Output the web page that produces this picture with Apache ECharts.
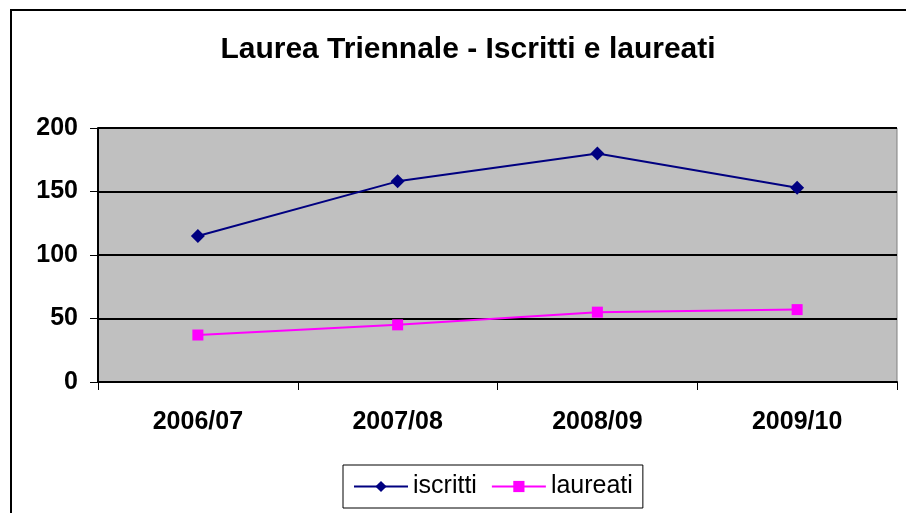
<!DOCTYPE html>
<html>
<head>
<meta charset="utf-8">
<script src="https://cdn.jsdelivr.net/npm/echarts@6/dist/echarts.min.js"></script>
<style>
  html, body { margin: 0; padding: 0; background: #fff; }
  #chart { width: 906px; height: 513px; }
</style>
</head>
<body>
<div id="chart"></div>
<script>
const years = ["2006/07", "2007/08", "2008/09", "2009/10"];
const iscritti = [115, 158, 180, 153];
const laureati = [37, 45, 55, 57];
const yTicks = [0, 50, 100, 150, 200];

const chart = echarts.init(document.getElementById("chart"));
const font = "Arial, 'Liberation Sans', sans-serif";

chart.setOption({
  animation: false,
  backgroundColor: "#ffffff",
  title: {
    text: "Laurea Triennale - Iscritti e laureati",
    left: 463,
    top: 30,
    textAlign: "center",
    textStyle: { fontFamily: font, fontSize: 30, fontWeight: "bold", color: "#000" }
  },
  graphic: [
    {
      type: "rect",
      shape: { x: 11, y: 10, width: 1000, height: 1000 },
      style: { fill: "none", stroke: "#000", lineWidth: 2 },
      z: 0
    }
  ],
  legend: {
    left: 343,
    top: 465,
    padding: [9, 10, 9, 10],
    borderColor: "#000",
    borderWidth: 1,
    itemWidth: 54,
    itemHeight: 14,
    itemGap: 14,
    textStyle: { fontFamily: font, fontSize: 25, color: "#000" },
    data: ["iscritti", "laureati"]
  },
  grid: {
    left: 98,
    top: 128,
    right: 9,
    bottom: 131,
    show: true,
    backgroundColor: "#C0C0C0",
    borderColor: "#808080",
    borderWidth: 1
  },
  xAxis: {
    type: "category",
    data: years,
    boundaryGap: true,
    axisLine: { lineStyle: { color: "#000", width: 2 } },
    axisTick: { show: true, length: 8, inside: false, lineStyle: { color: "#000", width: 1 } },
    axisLabel: { fontFamily: font, fontSize: 25, fontWeight: "bold", color: "#000", margin: 28 }
  },
  yAxis: {
    type: "value",
    min: yTicks[0],
    max: yTicks[yTicks.length - 1],
    interval: 50,
    axisLine: { show: true, lineStyle: { color: "#000", width: 2 } },
    axisTick: { show: true, length: 8, lineStyle: { color: "#000", width: 1 } },
    axisLabel: { fontFamily: font, fontSize: 25, fontWeight: "bold", color: "#000", margin: 20 },
    splitLine: { show: true, lineStyle: { color: "#000", width: 2 } }
  },
  series: [
    {
      name: "iscritti",
      type: "line",
      data: iscritti,
      symbol: "diamond",
      symbolSize: 14,
      itemStyle: { color: "#000080" },
      lineStyle: { color: "#000080", width: 2 }
    },
    {
      name: "laureati",
      type: "line",
      data: laureati,
      symbol: "rect",
      symbolSize: 11,
      itemStyle: { color: "#FF00FF" },
      lineStyle: { color: "#FF00FF", width: 2 }
    }
  ]
});
</script>
</body>
</html>
